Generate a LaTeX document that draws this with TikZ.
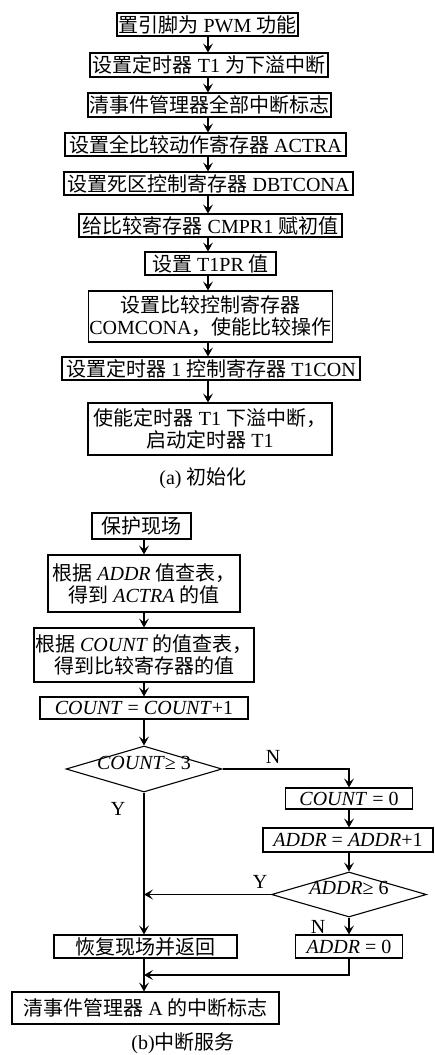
\documentclass[tikz,border=0pt]{standalone}
\usepackage{fontspec}
\setmainfont{Liberation Serif}
\newfontfamily\cjkf{Noto Sans CJK SC}
\newcommand\zhs[1]{{\cjkf #1}}
\usetikzlibrary{shapes.geometric,arrows.meta}
\begin{document}
\begin{tikzpicture}[x=1pt,y=-1pt,
  font=\fontsize{20}{22}\selectfont,
  box/.style={draw, line width=1.1pt, inner sep=1pt, align=center},
  arr/.style={-{Stealth[length=9pt,width=10pt,inset=4pt]}, line width=1.1pt},
  dia/.style={draw, diamond, line width=1.1pt, inner sep=0pt},
  lab/.style={inner sep=0pt}]
\useasboundingbox (0,0) rectangle (434,1055);
% ---------- (a) ----------
\coordinate (ax) at (208,0);
\node[box, minimum width=181pt, minimum height=23pt] (a1) at (207.5,24.5) {\zhs{置引脚为} PWM \zhs{功能}};
\node[box, minimum width=238pt, minimum height=24pt] (a2) at (209,65) {\zhs{设置定时器} T1 \zhs{为下溢中断}};
\node[box, minimum width=243pt, minimum height=24pt] (a3) at (209.5,105) {\zhs{清事件管理器全部中断标志}};
\node[box, minimum width=281pt, minimum height=23pt] (a4) at (205.5,144.5) {\zhs{设置全比较动作寄存器} ACTRA};
\node[box, minimum width=289pt, minimum height=23pt] (a5) at (208.5,183.5) {\zhs{设置死区控制寄存器} DBTCONA};
\node[box, minimum width=263pt, minimum height=23pt] (a6) at (210.5,225.5) {\zhs{给比较寄存器} CMPR1 \zhs{赋初值}};
\node[box, minimum width=131pt, minimum height=23pt] (a7) at (210.5,263.5) {\zhs{设置} T1PR \zhs{值}};
\node[box, minimum width=243pt, minimum height=51pt] (a8) at (210.5,316.5) {\zhs{设置比较控制寄存器}\\COMCONA\zhs{，使能比较操作}};
\node[box, minimum width=298pt, minimum height=23pt] (a9) at (211,368.5) {\zhs{设置定时器} 1 \zhs{控制寄存器} T1CON};
\node[box, minimum width=244pt, minimum height=52pt] (a10) at (210,429) {\zhs{使能定时器} T1 \zhs{下溢中断，}\\\zhs{启动定时器} T1};
\node[lab] (capa) at (203,478) {(a) \zhs{初始化}};
\foreach \u/\v in {a1/a2,a2/a3,a3/a4,a4/a5,a5/a6,a6/a7,a7/a8,a8/a9,a9/a10}
  \draw[arr] (\u.south -| ax) -- (\v.north -| ax);
% ---------- (b) ----------
\coordinate (bx) at (144,0);
\coordinate (rx) at (349,0);
\node[box, minimum width=99pt, minimum height=26pt] (b1) at (141.5,526) {\zhs{保护现场}};
\node[box, minimum width=192pt, minimum height=57pt] (b2) at (144,583.5) {\zhs{根据} \textit{ADDR} \zhs{值查表，}\\\zhs{得到} \textit{ACTRA} \zhs{的值}};
\node[box, minimum width=220pt, minimum height=54pt] (b3) at (144,655) {\zhs{根据} \textit{COUNT} \zhs{的值查表，}\\\zhs{得到比较寄存器的值}};
\node[box, minimum width=208pt, minimum height=22pt] (b4) at (144,708) {\textit{COUNT} = \textit{COUNT}+1};
\node[dia, minimum width=156pt, minimum height=46pt] (d1) at (144,769) {\smash{\makebox[0pt]{\textit{COUNT}≥ 3}}};
\node[box, minimum width=127pt, minimum height=21pt] (c5) at (349,798.5) {\textit{COUNT} = 0};
\node[box, minimum width=170pt, minimum height=24pt] (c6) at (348,840) {\textit{ADDR} = \textit{ADDR}+1};
\node[dia, minimum width=155pt, minimum height=45pt] (d2) at (349,894.5) {\smash{\makebox[0pt]{\textit{ADDR}≥ 6}}};
\node[box, minimum width=107pt, minimum height=23pt] (c7) at (349,946.5) {\textit{ADDR} = 0};
\node[box, minimum width=183pt, minimum height=23pt] (c8) at (145.5,946.5) {\zhs{恢复现场并返回}};
\node[box, minimum width=267pt, minimum height=32pt] (c9) at (145.5,1008) {\zhs{清事件管理器} A \zhs{的中断标志}};
\node[lab] (capb) at (183,1043) {(b)\zhs{中断服务}};
\node[lab] (n1) at (273,757) {N};
\node[lab] (y1) at (118,809) {Y};
\node[lab] (y2) at (260,882) {Y};
\node[lab] (n2) at (318,927) {N};
\coordinate (m) at (144,975);
\draw[arr] (b1.south -| bx) -- (b2.north -| bx);
\draw[arr] (b2.south -| bx) -- (b3.north -| bx);
\draw[arr] (b3.south -| bx) -- (b4.north -| bx);
\draw[arr] (b4.south -| bx) -- (d1.north -| bx);
\draw[arr] (d1.east) -| (c5.north -| rx);
\draw[arr] (c5.south -| rx) -- (c6.north -| rx);
\draw[arr] (c6.south -| rx) -- (d2.north -| rx);
\draw[arr] (d2.south -| rx) -- (c7.north -| rx);
\draw[arr] (d2.west) -- (d2.west -| bx);
\draw[arr] (d1.south -| bx) -- (c8.north -| bx);
\draw[arr] (c7.south -| rx) |- (m);
\draw[arr] (c8.south -| bx) -- (c9.north -| bx);
\end{tikzpicture}
\end{document}
